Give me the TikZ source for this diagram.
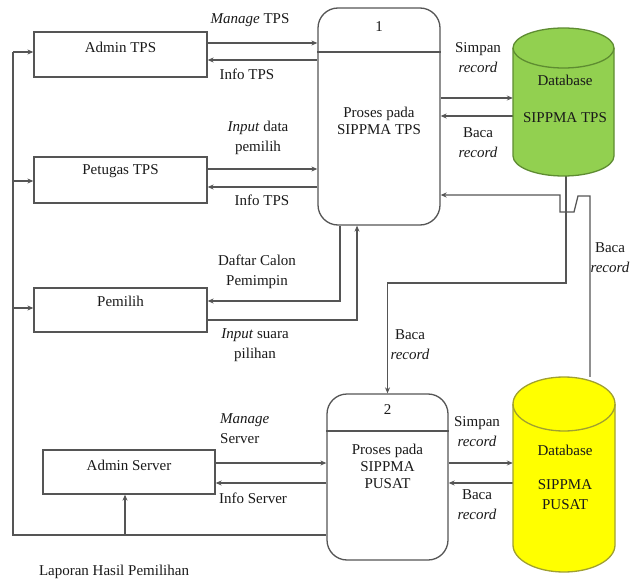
\documentclass[tikz,border=0pt]{standalone}
\usepackage{fontspec}
\setmainfont{Liberation Serif}
\usetikzlibrary{arrows.meta}
\definecolor{ln}{HTML}{555555}
\definecolor{dbgreen}{HTML}{92D050}
\definecolor{dbgreenline}{HTML}{5E8C31}
\definecolor{dbyellow}{HTML}{FFFF00}
\definecolor{dbyellowline}{HTML}{A0A030}
\begin{document}
\begin{tikzpicture}[x=1pt,y=-1pt,
 font=\fontsize{15}{17}\selectfont,
 ent/.style={draw=ln, line width=1.3pt, rectangle, minimum width=173, minimum height=45, inner sep=0},
 proc/.style={draw=ln, line width=1.3pt, rounded corners=20pt, inner sep=0},
 txt/.style={inner sep=0, align=center, text=black!90},
 lbl/.style={inner sep=0, align=center, font=\fontsize{15}{20}\selectfont, text=black!90},
 flow/.style={draw=ln, line width=1.3pt, -{Stealth[length=6pt,width=5pt]}},
 wire/.style={draw=ln, line width=1.3pt},
 cyl/.style={line width=1.3pt},
]
\useasboundingbox (0,0) rectangle (632,583);

% external entities
\node[ent] (adminTPS) at (120.5,54.5) {};
\node[txt] (adminTPSt) at (120.5,47) {Admin TPS};
\node[ent, minimum height=46] (petugas) at (120.5,180) {};
\node[txt] (petugast) at (120.5,171) {Petugas TPS};
\node[ent, minimum height=44] (pemilih) at (120.5,310) {};
\node[txt] (pemiliht) at (120.5,301) {Pemilih};
\node[ent, minimum height=44, minimum width=172] (adminSrv) at (129,472) {};
\node[txt] (adminSrvt) at (129,465) {Admin Server};

% processes
\node[proc, minimum width=122, minimum height=217] (p1) at (379,116.5) {};
\draw[wire] (p1.west |- 0,52) -- (p1.east |- 0,52);
\node[txt] (p1n) at (379,27) {1};
\node[txt] (p1t) at (379,121) {Proses pada\\SIPPMA TPS};

\node[proc, minimum width=121, minimum height=166] (p2) at (387.5,477) {};
\draw[wire] (p2.west |- 0,431) -- (p2.east |- 0,431);
\node[txt] (p2n) at (387.5,410) {2};
\node[txt] (p2t) at (387.5,466) {Proses pada\\SIPPMA\\PUSAT};

% data store anchors
\node[inner sep=0, minimum width=101, minimum height=148] (dbTPS) at (563.5,102) {};
\node[inner sep=0, minimum width=102, minimum height=195] (dbPusat) at (564,474.5) {};

% connectors
\draw[flow] (adminTPS.east |- 0,43) -- (p1.west |- 0,43);
\draw[flow] (p1.west |- 0,60) -- (adminTPS.east |- 0,60);
\draw[flow] (petugas.east |- 0,169) -- (p1.west |- 0,169);
\draw[flow] (p1.west |- 0,187) -- (petugas.east |- 0,187);
\draw[flow] (p1.south -| 340,0) -- (340,301) -- (pemilih.east |- 0,301);
\draw[flow] (pemilih.east |- 0,320) -- (357,320) -- (p1.south -| 357,0);
\draw[flow] (p1.east |- 0,98) -- (dbTPS.west |- 0,98);
\draw[flow] (dbTPS.west |- 0,116) -- (p1.east |- 0,116);
\draw[flow] (dbTPS.south -| 566,0) -- (566,283) -- (387.5,283) -- (p2.north);
\draw[flow] (dbPusat.north -| 590,0) -- (590,196) -- (578,196) -- (574,212) -- (560,212) -- (560,195) -- (p1.east |- 0,195);
\draw[flow] (adminSrv.east |- 0,463) -- (p2.west |- 0,463);
\draw[flow] (p2.west |- 0,483) -- (adminSrv.east |- 0,483);
\draw[flow] (p2.east |- 0,463) -- (dbPusat.west |- 0,463);
\draw[flow] (dbPusat.west |- 0,483) -- (p2.east |- 0,483);
\coordinate (lapL) at (13,535);
\coordinate (lapTop) at (13,52);
\coordinate (lapSrv) at (125,535);
\draw[wire] (p2.west |- lapL) -- (lapL) -- (lapTop);
\draw[flow] (lapTop) -- (adminTPS.west |- lapTop);
\draw[flow] (lapL |- 0,181) -- (petugas.west |- 0,181);
\draw[flow] (lapL |- 0,308) -- (pemilih.west |- 0,308);
\draw[flow] (lapSrv) -- (adminSrv.south -| lapSrv);

% cylinders
\filldraw[cyl, fill=dbgreen, draw=dbgreenline] (513,48) -- (513,156) arc[start angle=180, end angle=360, x radius=50.5pt, y radius=20pt] -- (614,48) arc[start angle=0, end angle=180, x radius=50.5pt, y radius=20pt] -- cycle;
\draw[cyl, dbgreenline] (513,48) arc[start angle=180, end angle=360, x radius=50.5pt, y radius=20pt];
\node[txt] (dbTPSa) at (565,80) {Database};
\node[txt] (dbTPSb) at (565,118) {SIPPMA TPS};

\filldraw[cyl, fill=dbyellow, draw=dbyellowline] (513,404) -- (513,545) arc[start angle=180, end angle=360, x radius=51pt, y radius=27pt] -- (615,404) arc[start angle=0, end angle=180, x radius=51pt, y radius=27pt] -- cycle;
\draw[cyl, dbyellowline] (513,404) arc[start angle=180, end angle=360, x radius=51pt, y radius=27pt];
\node[txt] (dbPa) at (565,450) {Database};
\node[lbl] (dbPb) at (565,495) {SIPPMA\\PUSAT};

% labels
\node[lbl] (l1) at (250,20) {\textit{Manage} TPS};
\node[lbl] (l2) at (247,74) {Info TPS};
\node[lbl] (l3) at (258,138) {\textit{Input} data\\pemilih};
\node[lbl] (l4) at (262,200) {Info TPS};
\node[lbl] (l5) at (257,272) {Daftar Calon\\Pemimpin};
\node[lbl] (l6) at (255,345) {\textit{Input} suara\\pilihan};
\node[lbl] (l7) at (478,58) {Simpan\\\textit{record}};
\node[lbl] (l8) at (478,143) {Baca\\\textit{record}};
\node[lbl] (l9) at (410,345) {Baca\\\textit{record}};
\node[lbl] (l10) at (610,258) {Baca\\\textit{record}};
\node[lbl, align=left, anchor=west] (l11) at (220,429) {\textit{Manage}\\Server};
\node[lbl] (l12) at (253,498) {Info Server};
\node[lbl] (l13) at (477,432) {Simpan\\\textit{record}};
\node[lbl] (l14) at (477,505) {Baca\\\textit{record}};
\node[lbl] (l15) at (114,572) {Laporan Hasil Pemilihan};
\end{tikzpicture}
\end{document}
